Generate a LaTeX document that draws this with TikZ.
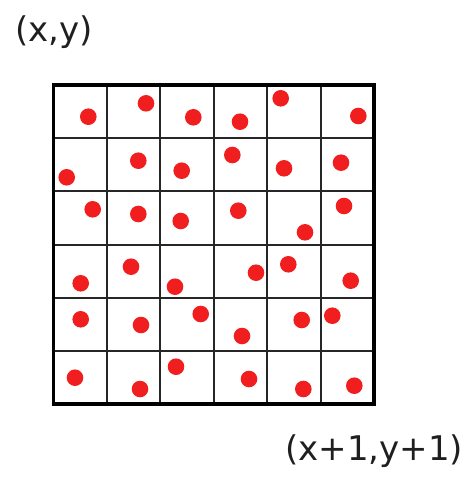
\documentclass[tikz,border=0pt]{standalone}
\usepackage{fontspec}
\setmainfont{DejaVu Sans}
\definecolor{dotred}{RGB}{240,30,30}
\begin{document}
\begin{tikzpicture}[x=1pt,y=-1pt,
  dot/.style={fill=dotred,draw=none},
  lbl/.style={inner sep=0pt,font=\fontsize{34}{40}\selectfont,text=black!88}]
\useasboundingbox (0,0) rectangle (467,478);
% inner grid
\foreach \i in {1,...,5}{
  \draw[line width=2pt,black!85] ({53.5+\i*53.4},85) -- ({53.5+\i*53.4},404);
  \draw[line width=2pt,black!85] (53.5,{85+\i*53.2}) -- (374,{85+\i*53.2});
}
\draw[line width=3.8pt] (53.5,85) rectangle (374,404);
% dots
\foreach \x/\y in {88.3/116.7,146/103.3,193.3/117.3,240/121.7,280.7/98.3,358.3/116,
  66.7/177.3,138.3/160.7,181.7/170.7,232.3/155,284/168.3,341/162.7,
  92.7/209.3,138.3/214,180.7/221,238.3/210.7,305/232.3,344/206,
  80.7/283.3,131/266.7,175/286.7,256/272.7,288.3/264.3,350.7/280.7,
  80.7/319.3,141/325,200.7/314,242/336,301.7/320,332.3/315.7,
  75/377.7,140/389,176/366.7,249/379,303.3/389,354.3/385.7}{
  \fill[dot] (\x,\y) circle (8.3);
}
\node[lbl,anchor=base west] (tl) at (15,42) {(x,y)};
\node[lbl,anchor=base west] (br) at (285,460) {(x+1,y+1)};
\end{tikzpicture}
\end{document}
